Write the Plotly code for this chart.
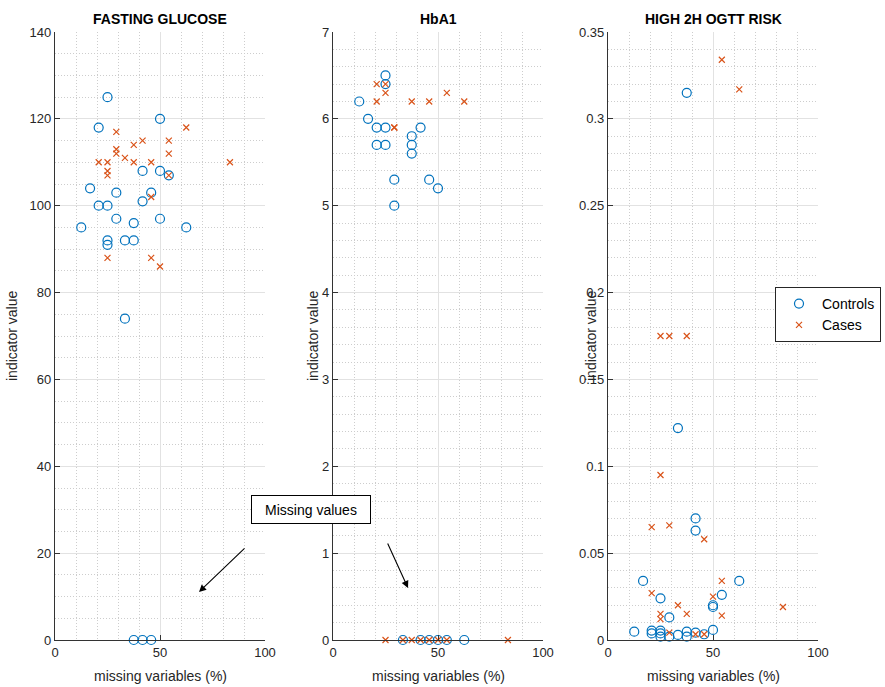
import plotly.graph_objects as go

# ---- data: missing-variable share (%) vs indicator value ----
fg_ctrl_x = [25, 50, 20.8, 41.7, 50, 54.2, 16.7, 29.2, 45.8, 41.7, 20.8, 25, 29.2, 50, 37.5,
             12.5, 62.5, 25, 25, 33.3, 37.5, 33.3, 37.5, 41.7, 45.8]
fg_ctrl_y = [125, 120, 118, 108, 108, 107, 104, 103, 103, 101, 100, 100, 97, 97, 96,
             95, 95, 92, 91, 92, 92, 74, 0, 0, 0]
fg_case_x = [62.5, 29.2, 41.7, 37.5, 54.2, 29.2, 29.2, 54.2, 33.3, 20.8, 25, 37.5, 45.8, 83.3,
             25, 25, 54.2, 45.8, 25, 45.8, 50]
fg_case_y = [118, 117, 115, 114, 115, 113, 112, 112, 111, 110, 110, 110, 110, 110,
             108, 107, 107, 102, 88, 88, 86]

hb_ctrl_x = [25, 25, 12.5, 16.7, 20.8, 25, 41.7, 37.5, 20.8, 25, 37.5, 37.5, 29.2, 45.8, 50, 29.2,
             33.3, 41.7, 45.8, 50, 54.2, 62.5]
hb_ctrl_y = [6.5, 6.4, 6.2, 6.0, 5.9, 5.9, 5.9, 5.8, 5.7, 5.7, 5.7, 5.6, 5.3, 5.3, 5.2, 5.0,
             0, 0, 0, 0, 0, 0]
hb_case_x = [20.8, 25, 25, 54.2, 20.8, 37.5, 45.8, 62.5, 29.2, 29.2,
             25, 33.3, 37.5, 41.7, 45.8, 50, 54.2, 83.3]
hb_case_y = [6.4, 6.4, 6.3, 6.3, 6.2, 6.2, 6.2, 6.2, 5.9, 5.9,
             0, 0, 0, 0, 0, 0, 0, 0]

og_ctrl_x = [37.5, 33.3, 41.7, 41.7, 16.7, 62.5, 54.2, 25, 50, 50, 29.2, 12.5, 20.8, 20.8,
             25, 25, 25, 29.2, 33.3, 37.5, 37.5, 41.7, 45.8, 50]
og_ctrl_y = [0.315, 0.122, 0.070, 0.063, 0.034, 0.034, 0.026, 0.024, 0.020, 0.019, 0.013,
             0.0048, 0.0054, 0.0038, 0.0054, 0.0038, 0.0019, 0.0019, 0.0029, 0.0048, 0.0019,
             0.0042, 0.0033, 0.0058]
og_case_x = [54.2, 62.5, 25, 29.2, 37.5, 25, 20.8, 29.2, 45.8, 54.2, 20.8, 50, 33.3, 83.3,
             25, 25, 37.5, 54.2, 29.2, 41.7, 45.8]
og_case_y = [0.334, 0.317, 0.175, 0.175, 0.175, 0.095, 0.065, 0.066, 0.058, 0.034, 0.027,
             0.025, 0.020, 0.019, 0.015, 0.012, 0.015, 0.014, 0.0042, 0.0033, 0.0033]

panel_titles = ["FASTING GLUCOSE", "HbA1", "HIGH 2H OGTT RISK"]
x_ticks = [0, 50, 100]
fg_ticks = [0, 20, 40, 60, 80, 100, 120, 140]
hb_ticks = [0, 1, 2, 3, 4, 5, 6, 7]
og_ticks = [0, 0.05, 0.1, 0.15, 0.2, 0.25, 0.3, 0.35]
og_tick_text = ["0", "0.05", "0.1", "0.15", "0.2", "0.25", "0.3", "0.35"]

BLUE = "#0072BD"
ORANGE = "#D95319"
FONT = "Liberation Sans, Arial, sans-serif"
TXT = "#262626"
AX = "#333333"

W, H = 885, 687
fig = go.Figure()

panels = [
    (fg_ctrl_x, fg_ctrl_y, fg_case_x, fg_case_y),
    (hb_ctrl_x, hb_ctrl_y, hb_case_x, hb_case_y),
    (og_ctrl_x, og_ctrl_y, og_case_x, og_case_y),
]
for i, (cx, cy, kx, ky) in enumerate(panels):
    xa = "x" if i == 0 else f"x{i+1}"
    ya = "y" if i == 0 else f"y{i+1}"
    fig.add_trace(go.Scatter(
        x=cx, y=cy, mode="markers", name="Controls", xaxis=xa, yaxis=ya,
        showlegend=(i == 2), cliponaxis=False,
        marker=dict(symbol="circle-open", size=9, color=BLUE, line=dict(width=1.2, color=BLUE))))
    fig.add_trace(go.Scatter(
        x=kx, y=ky, mode="markers", name="Cases", xaxis=xa, yaxis=ya,
        showlegend=(i == 2), cliponaxis=False,
        marker=dict(symbol="x-thin-open", size=6, color=ORANGE, line=dict(width=1.2, color=ORANGE))))

# panel geometry in pixels
x_doms = [(55, 265), (333, 543), (608, 818)]
y_top, y_bot = 32, 640
y_dom = [(H - y_bot) / H, (H - y_top) / H]

common_x = dict(range=[0, 100], tickvals=x_ticks, ticks="inside", ticklen=5, tickwidth=1,
                tickcolor=AX, showline=True, linecolor=AX, linewidth=1.3, automargin=False,
                showgrid=True, gridcolor="#e2e2e2", gridwidth=1, zeroline=False,
                tickfont=dict(family=FONT, size=13, color=TXT),
                minor=dict(dtick=10, showgrid=True, gridcolor="#cdcdcd", griddash="1px,2px", gridwidth=1))

y_specs = [
    dict(range=[0, 140], tickvals=fg_ticks, minor_dtick=5),
    dict(range=[0, 7], tickvals=hb_ticks, minor_dtick=0.2),
    dict(range=[0, 0.35], tickvals=og_ticks, ticktext=og_tick_text, minor_dtick=0.01),
]

for i in range(3):
    xk = "xaxis" if i == 0 else f"xaxis{i+1}"
    yk = "yaxis" if i == 0 else f"yaxis{i+1}"
    yname = "y" if i == 0 else f"y{i+1}"
    xname = "x" if i == 0 else f"x{i+1}"
    xd = [x_doms[i][0] / W, x_doms[i][1] / W]
    fig.layout[xk] = dict(common_x, domain=xd, anchor=yname)
    s = y_specs[i]
    yax = dict(range=s["range"], tickvals=s["tickvals"], domain=y_dom, anchor=xname,
               ticks="inside", ticklen=5, tickwidth=1, tickcolor=AX, automargin=False,
               showline=True, linecolor=AX, linewidth=1.3,
               showgrid=True, gridcolor="#e2e2e2", gridwidth=1, zeroline=False,
               tickfont=dict(family=FONT, size=13, color=TXT),
               minor=dict(dtick=s["minor_dtick"], showgrid=True, gridcolor="#cdcdcd",
                          griddash="1px,2px", gridwidth=1))
    if "ticktext" in s:
        yax["ticktext"] = s["ticktext"]
    fig.layout[yk] = yax

annotations = []
for i in range(3):
    cx_px = (x_doms[i][0] + x_doms[i][1]) / 2
    # panel title
    annotations.append(dict(text=f"<b>{panel_titles[i]}</b>", xref="paper", yref="paper",
                            x=cx_px / W, y=(H - 19) / H, showarrow=False,
                            font=dict(family=FONT, size=14, color="#000000"),
                            xanchor="center", yanchor="middle"))
    # x-axis label
    annotations.append(dict(text="missing variables (%)", xref="paper", yref="paper",
                            x=cx_px / W, y=(H - 676) / H, showarrow=False,
                            font=dict(family=FONT, size=14, color=TXT),
                            xanchor="center", yanchor="middle"))
# y-axis labels
for px in (12, 313, 591):
    annotations.append(dict(text="indicator value", xref="paper", yref="paper",
                            x=px / W, y=(H - 336) / H, showarrow=False, textangle=-90,
                            font=dict(family=FONT, size=14, color=TXT),
                            xanchor="center", yanchor="middle"))

# "Missing values" callout box
annotations.append(dict(text="Missing values", xref="paper", yref="paper",
                        x=311 / W, y=(H - 509.5) / H, showarrow=False,
                        font=dict(family=FONT, size=14, color="#000000"),
                        bgcolor="white", bordercolor="#000000", borderwidth=1,
                        width=114, height=23, borderpad=2,
                        xanchor="center", yanchor="middle"))
# arrows pointing at the zero-valued points
for head, tail in (((199, 592), (246, 547)), ((408, 588), (387, 542))):
    annotations.append(dict(text="", xref="paper", yref="paper",
                            x=head[0] / W, y=(H - head[1]) / H,
                            axref="pixel", ayref="pixel",
                            ax=tail[0] - head[0], ay=tail[1] - head[1],
                            showarrow=True, arrowhead=2, arrowsize=1.3, arrowwidth=1.1,
                            arrowcolor="#000000"))

fig.update_layout(
    width=W, height=H, margin=dict(l=0, r=0, t=0, b=0, autoexpand=False),
    paper_bgcolor="white", plot_bgcolor="white",
    annotations=annotations,
    legend=dict(xref="container", yref="container",
                x=775 / W, y=(H - 287) / H, xanchor="left", yanchor="top",
                bgcolor="white", bordercolor="#262626", borderwidth=1,
                font=dict(family=FONT, size=14, color="#000000"),
                itemwidth=36, entrywidth=120, entrywidthmode="pixels",
                tracegroupgap=0),
    font=dict(family=FONT),
)

fig.write_html("out.html")
